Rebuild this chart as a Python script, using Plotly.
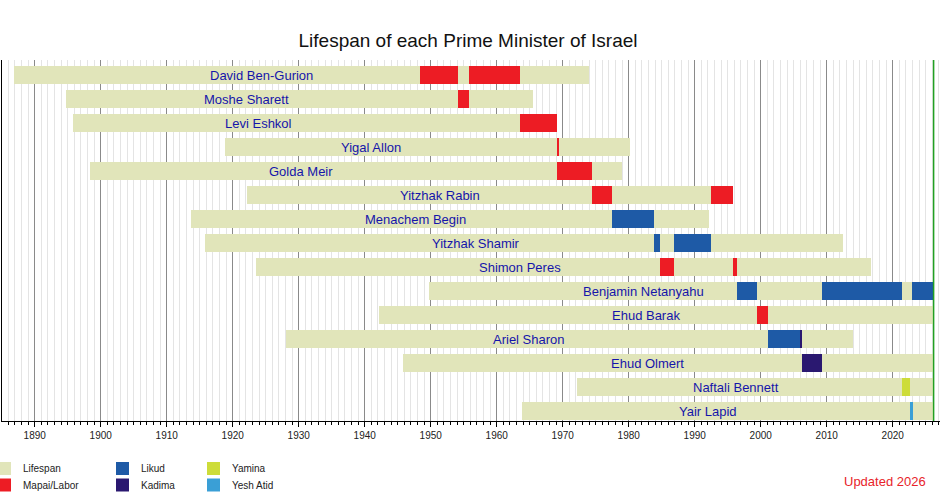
import plotly.graph_objects as go

# ---------------- data ----------------
PRESENT = 2026.2

names = ["David Ben-Gurion", "Moshe Sharett", "Levi Eshkol", "Yigal Allon", "Golda Meir",
         "Yitzhak Rabin", "Menachem Begin", "Yitzhak Shamir", "Shimon Peres",
         "Benjamin Netanyahu", "Ehud Barak", "Ariel Sharon", "Ehud Olmert",
         "Naftali Bennett", "Yair Lapid"]
birth = [1886.79, 1894.79, 1895.82, 1918.78, 1898.34, 1922.16, 1913.62, 1915.81,
         1923.59, 1949.80, 1942.12, 1928.15, 1945.75, 1972.23, 1963.85]
death = [1973.92, 1965.51, 1969.15, 1980.16, 1978.94, 1995.84, 1992.19, 2012.49,
         2016.74, None, None, 2014.03, None, None, None]
label_year = [1924.4, 1922.1, 1923.9, 1941.0, 1930.3, 1951.4, 1947.7, 1956.8,
              1963.5, 1982.3, 1982.6, 1964.9, 1982.9, 1996.2, 1992.0]

term_pm = [0, 0, 1, 2, 3, 4, 5, 5, 6, 7, 7, 8, 8, 9, 9, 9, 10, 11, 11, 12, 13, 14]
term_start = [1948.37, 1955.84, 1954.07, 1963.48, 1969.15, 1969.21, 1974.42, 1992.53,
              1977.47, 1983.77, 1986.80, 1984.70, 1995.84, 1996.46, 2009.25, 2022.99,
              1999.51, 2001.18, 2005.89, 2006.28, 2021.45, 2022.60]
term_end = [1954.07, 1963.48, 1955.84, 1969.15, 1969.30, 1974.42, 1977.47, 1995.84,
            1983.77, 1984.70, 1992.53, 1986.80, 1996.46, 1999.51, 2021.45, None,
            2001.18, 2005.89, 2006.28, 2009.25, 2022.60, 2023.05]
term_party = ["Mapai/Labor", "Mapai/Labor", "Mapai/Labor", "Mapai/Labor", "Mapai/Labor",
              "Mapai/Labor", "Mapai/Labor", "Mapai/Labor", "Likud", "Likud", "Likud",
              "Mapai/Labor", "Mapai/Labor", "Likud", "Likud", "Likud", "Mapai/Labor",
              "Likud", "Kadima", "Kadima", "Yamina", "Yesh Atid"]

legend_names = ["Lifespan", "Mapai/Labor", "Likud", "Kadima", "Yamina", "Yesh Atid"]
legend_colors = ["#e1e5ba", "#ed1c24", "#1e5aa6", "#2a1870", "#cddc39", "#3a9fd6"]
colors = dict(zip(legend_names, legend_colors))

# ---------------- layout geometry (pixels) ----------------
W, H = 950, 500
L, R, T, B = 2, 940, 60, 421
PW, PH = R - L, B - T
BAR_W = 0.78

fig = go.Figure()

# lifespans
ends = [d if d is not None else PRESENT for d in death]
fig.add_trace(go.Bar(
    orientation="h", y=list(range(len(names))), base=birth,
    x=[e - b for b, e in zip(birth, ends)], width=BAR_W,
    marker=dict(color=colors["Lifespan"], line=dict(width=0)),
    name="Lifespan", showlegend=False, hoverinfo="skip"))

# terms, one trace per party
for party in legend_names[1:]:
    idx = [i for i, p in enumerate(term_party) if p == party]
    if not idx:
        continue
    s = [term_start[i] for i in idx]
    e = [term_end[i] if term_end[i] is not None else PRESENT for i in idx]
    fig.add_trace(go.Bar(
        orientation="h", y=[term_pm[i] for i in idx], base=s,
        x=[b - a for a, b in zip(s, e)], width=BAR_W,
        marker=dict(color=colors[party], line=dict(width=0)),
        name=party, showlegend=False, hoverinfo="skip"))

# name labels
for i, n in enumerate(names):
    fig.add_annotation(x=label_year[i], y=i, text=n, showarrow=False,
                       xanchor="center", yanchor="middle",
                       font=dict(family="Liberation Sans, Arial, sans-serif",
                                 size=13, color="#1515aa"))

# present line
fig.add_shape(type="line", x0=PRESENT, x1=PRESENT, xref="x", yref="paper",
              y0=0, y1=1, line=dict(color="#22a022", width=1.5), layer="above")

# legend drawn below the axis
def px2paper(px, py):
    return (px - L) / PW, (B - py) / PH

leg_cols_x = [-2, 116, 207]
leg_rows_y = [468.5, 485]
SW = 13
for k, (nm, col) in enumerate(zip(legend_names, legend_colors)):
    c, r = k // 2, k % 2
    x0, y0 = px2paper(leg_cols_x[c], leg_rows_y[r] - SW / 2)
    x1, y1 = px2paper(leg_cols_x[c] + SW, leg_rows_y[r] + SW / 2)
    fig.add_shape(type="rect", xref="paper", yref="paper", x0=x0, x1=x1, y0=y0, y1=y1,
                  fillcolor=col, line=dict(width=0))
    tx, ty = px2paper(leg_cols_x[c] + SW + 10, leg_rows_y[r])
    fig.add_annotation(xref="paper", yref="paper", x=tx, y=ty, text=nm, showarrow=False,
                       xanchor="left", yanchor="middle",
                       font=dict(family="Liberation Sans, Arial, sans-serif",
                                 size=10, color="#222222"))

ux, uy = px2paper(885, 481)
fig.add_annotation(xref="paper", yref="paper", x=ux, y=uy, text="Updated 2026",
                   showarrow=False, xanchor="center", yanchor="middle",
                   font=dict(family="Liberation Sans, Arial, sans-serif", size=13,
                             color="#e8232a"))

x_lo = 1890 + (L - 34.7) / 6.6
x_hi = 1890 + (R - 34.7) / 6.6
y_top = -(75 - T) / 24
y_bot = 14 + (B - 411) / 24

fig.update_layout(
    width=W, height=H,
    margin=dict(l=L, r=W - R, t=T, b=H - B, pad=0),
    paper_bgcolor="white", plot_bgcolor="white",
    barmode="overlay", bargap=0,
    title=dict(text="Lifespan of each Prime Minister of Israel", x=468 / W, xref="container",
               xanchor="center", y=1 - 40 / H, yref="container", yanchor="middle",
               font=dict(family="Liberation Sans, Arial, sans-serif", size=19, color="#111111")),
    font=dict(family="Liberation Sans, Arial, sans-serif"),
    showlegend=False,
    xaxis=dict(range=[x_lo, x_hi], dtick=10, tick0=1890, ticks="outside", ticklen=5,
               tickcolor="black", tickwidth=1, showline=True, linecolor="black", linewidth=1,
               showgrid=True, gridcolor="#8a8a8a", gridwidth=1, zeroline=False,
               tickfont=dict(size=10, color="#222222"),
               minor=dict(dtick=1, tick0=1890, ticks="outside", ticklen=3, tickcolor="black",
                          showgrid=True, gridcolor="#e4e4e4", gridwidth=1)),
    yaxis=dict(range=[y_bot, y_top], showticklabels=False, ticks="", showgrid=False,
               zeroline=False, showline=True, linecolor="black", linewidth=1),
)

fig.write_html("out.html", config={"displayModeBar": False},
               post_script="document.body.style.margin='0px'; document.body.style.overflow='hidden';")
